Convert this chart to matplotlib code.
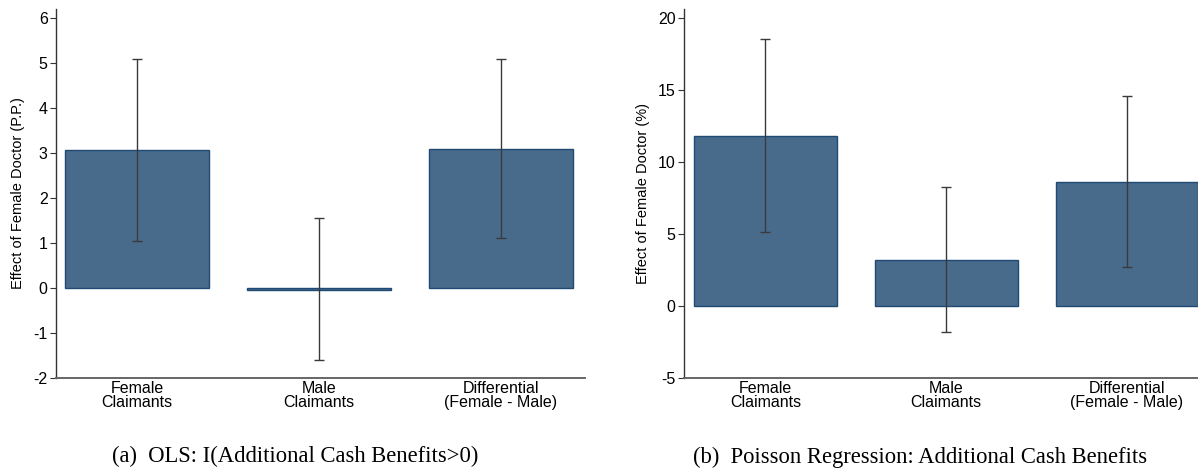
import matplotlib
matplotlib.use('Agg')
import matplotlib.pyplot as plt
import numpy as np

# ==========================================
# DATA
# ==========================================
categories = ['Female\nClaimants', 'Male\nClaimants', 'Differential\n(Female - Male)']

ols_effect = [3.07, -0.04, 3.10]
ols_lo = [1.05, -1.60, 1.12]
ols_hi = [5.10, 1.55, 5.10]

pois_effect = [11.8, 3.2, 8.6]
pois_lo = [5.1, -1.8, 2.7]
pois_hi = [18.5, 8.25, 14.55]

ols_ticks = [-2, -1, 0, 1, 2, 3, 4, 5, 6]
pois_ticks = [-5, 0, 5, 10, 15, 20]

captions = ['(a)  OLS: I(Additional Cash Benefits>0)',
            '(b)  Poisson Regression: Additional Cash Benefits']

# ==========================================
# STYLE
# ==========================================
plt.rcParams['font.family'] = ['Liberation Sans', 'DejaVu Sans']
BAR_FACE = '#486b8c'
BAR_EDGE = '#1e4a73'
ERR_COL = '#3a3a3a'
AX_COL = '#333333'


def draw_panel(ax, effect, lo, hi, ticks, ylim, xlim, ylabel):
    x = np.arange(len(categories))
    effect = np.array(effect)
    yerr = [effect - np.array(lo), np.array(hi) - effect]
    ax.bar(x, effect, width=0.79, color=BAR_FACE, edgecolor=BAR_EDGE,
           linewidth=1.0, zorder=2)
    ax.errorbar(x, effect, yerr=yerr, fmt='none', ecolor=ERR_COL,
                elinewidth=1.0, capsize=3.5, capthick=1.0, zorder=3)
    ax.set_xlim(*xlim)
    ax.set_ylim(*ylim)
    ax.set_yticks(ticks)
    ax.set_yticklabels([str(t) for t in ticks], fontsize=11.5)
    ax.set_xticks(x)
    ax.set_xticklabels(categories, fontsize=11.5, linespacing=0.95)
    ax.tick_params(axis='x', length=0, pad=2)
    ax.tick_params(axis='y', length=4, width=0.8, color=AX_COL, pad=2)
    ax.set_ylabel(ylabel, fontsize=10.5, labelpad=6)
    for side in ['top', 'right']:
        ax.spines[side].set_visible(False)
    ax.spines['left'].set_color(AX_COL)
    ax.spines['left'].set_linewidth(1.0)
    ax.spines['bottom'].set_color('#666666')
    ax.spines['bottom'].set_linewidth(1.4)


fig = plt.figure(figsize=(11.98, 4.75), dpi=100)

ax1 = fig.add_axes([0.0468, 0.2042, 0.4415, 0.7768])
draw_panel(ax1, ols_effect, ols_lo, ols_hi, ols_ticks, (-2, 6.2),
           (-0.446, 2.463), 'Effect of Female Doctor (P.P.)')

ax2 = fig.add_axes([0.571, 0.2042, 0.429, 0.7768])
draw_panel(ax2, pois_effect, pois_lo, pois_hi, pois_ticks, (-5, 20.6),
           (-0.45, 2.393), 'Effect of Female Doctor (%)')

fig.text(0.246, 0.038, captions[0], ha='center', va='center',
         fontsize=16.3, family=['Liberation Serif', 'DejaVu Serif'])
fig.text(0.768, 0.038, captions[1], ha='center', va='center',
         fontsize=16.3, family=['Liberation Serif', 'DejaVu Serif'])

fig.savefig('out.png', dpi=100)
